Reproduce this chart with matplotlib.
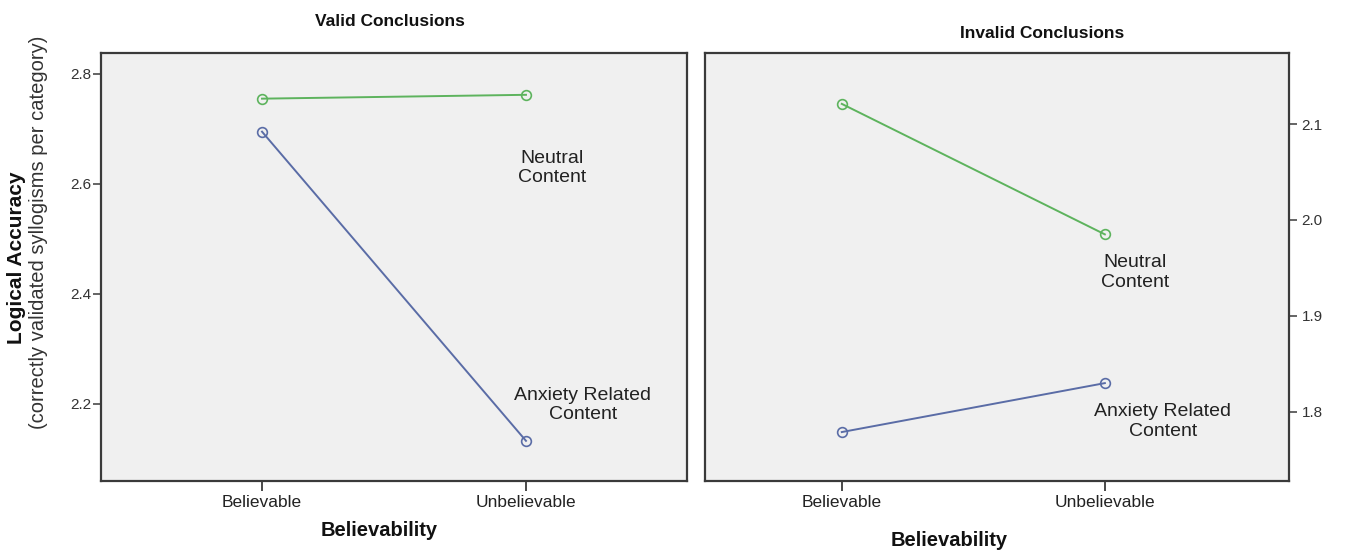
import matplotlib
matplotlib.use("Agg")
import matplotlib.pyplot as plt

plt.rcParams['font.family'] = ['Liberation Sans', 'DejaVu Sans']

categories = ["Believable", "Unbelievable"]
valid_neutral = [2.755, 2.762]
valid_anxiety = [2.695, 2.133]
invalid_neutral = [2.121, 1.985]
invalid_anxiety = [1.779, 1.830]
valid_yticks = [2.2, 2.4, 2.6, 2.8]
invalid_yticks = [1.8, 1.9, 2.0, 2.1]

GREEN = '#5db35d'
BLUE = '#5a6ca6'
SPINE = '#3a3a3a'
W, H = 1346, 551

fig = plt.figure(figsize=(W / 100, H / 100), dpi=100)
ax1 = fig.add_axes([101 / W, 70 / H, 586 / W, 428 / H])
ax2 = fig.add_axes([705 / W, 70 / H, 584 / W, 428 / H])

x = list(range(len(categories)))

def style(ax):
    ax.set_facecolor('#f0f0f0')
    for s in ax.spines.values():
        s.set_color(SPINE)
        s.set_linewidth(1.6)
    ax.set_xticks(x)
    ax.set_xticklabels(categories, fontsize=12.5, color='#222222')
    ax.tick_params(axis='x', length=7, width=1.3, color=SPINE, pad=3)
    ax.tick_params(axis='y', length=6, width=1.1, color=SPINE, labelsize=11, labelcolor='#333333')

for ax, neu, anx in [(ax1, valid_neutral, valid_anxiety), (ax2, invalid_neutral, invalid_anxiety)]:
    ax.plot(x, neu, color=GREEN, lw=1.4, marker='o', ms=7, mfc='none', mec=GREEN, mew=1.2)
    ax.plot(x, anx, color=BLUE, lw=1.4, marker='o', ms=7, mfc='none', mec=BLUE, mew=1.2)
    style(ax)

ax1.set_xlim(-0.61, 1.61)
ax1.set_ylim(2.06, 2.838)
ax1.set_yticks(valid_yticks)
ax1.set_yticklabels([f"{v:.1f}" for v in valid_yticks])
ax1.tick_params(axis='y', pad=1)

ax2.set_xlim(-0.52, 1.70)
ax2.set_ylim(1.728, 2.174)
ax2.yaxis.tick_right()
ax2.set_yticks(invalid_yticks)
ax2.set_yticklabels([f"{v:.1f}" for v in invalid_yticks])
ax2.tick_params(axis='y', pad=3)

ann_kw = dict(fontsize=14, color='#222222', ha='center', va='center', linespacing=1.2)
ax1.text(1.10, 2.629, "Neutral\nContent", **ann_kw)
ax1.text(1.216, 2.198, "Anxiety Related\nContent", **ann_kw)
ax2.text(1.114, 1.945, "Neutral\nContent", **ann_kw)
ax2.text(1.22, 1.790, "Anxiety Related\nContent", **ann_kw)

fig.text(390 / W, 1 - 22 / H, "Valid Conclusions", fontsize=12.5, fontweight='bold', ha='center', va='center', color='#111111')
fig.text(1042 / W, 1 - 34 / H, "Invalid Conclusions", fontsize=12.5, fontweight='bold', ha='center', va='center', color='#111111')
fig.text(379 / W, 1 - 531 / H, "Believability", fontsize=14.5, fontweight='bold', ha='center', va='center', color='#111111')
fig.text(949 / W, 1 - 540 / H, "Believability", fontsize=14.5, fontweight='bold', ha='center', va='center', color='#111111')
fig.text(17 / W, 1 - 258 / H, "Logical Accuracy", fontsize=15, fontweight='bold', rotation=90, ha='center', va='center', color='#111111')
fig.text(39 / W, 1 - 232 / H, "(correctly validated syllogisms per category)", fontsize=14.5, rotation=90, ha='center', va='center', color='#333333')

fig.savefig("out.png", dpi=100, facecolor='white')
